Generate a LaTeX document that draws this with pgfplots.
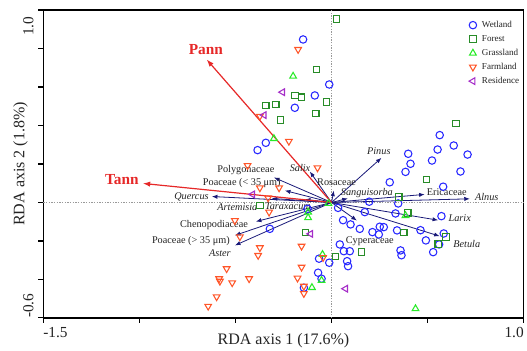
\documentclass[border=0pt]{standalone}
\usepackage{fontspec}
\setmainfont{Liberation Serif}
\usepackage{pgfplots}
\pgfplotsset{compat=1.18}
\usetikzlibrary{arrows.meta}
\definecolor{cwet}{RGB}{40,40,255}
\definecolor{cfor}{RGB}{40,140,40}
\definecolor{cgra}{RGB}{40,235,40}
\definecolor{cfar}{RGB}{255,85,40}
\definecolor{cres}{RGB}{165,45,200}
\definecolor{cspe}{RGB}{25,25,120}
\definecolor{cenv}{RGB}{230,40,40}
\definecolor{ctxt}{RGB}{35,35,35}
\begin{document}
\begin{tikzpicture}
\begin{axis}[
  scale only axis,
  width=360.3pt, height=231pt,
  xmin=-1.5, xmax=1.0, ymin=-0.6, ymax=1.0,
  axis line style={line width=0.9pt},
  tick align=outside, tick pos=left,
  major tick length=3.75pt,
  every tick/.style={black, line width=0.8pt},
  xtick={-1.5,-1,-0.5,0,0.5,1},
  xticklabels={\rlap{-1.5},,,,,\llap{1.0}},
  ytick={-0.6,-0.4,-0.2,0,0.2,0.4,0.6,0.8,1.0},
  yticklabels={\rlap{-0.6},,,,,,,,\llap{1.0\hspace{5pt}}},
  xticklabel style={font=\fontsize{11.5}{13}\selectfont, text=ctxt},
  yticklabel style={font=\fontsize{11.5}{13}\selectfont, text=ctxt, rotate=90, anchor=south},
  xlabel={RDA axis 1 (17.6\%)},
  ylabel={RDA axis 2 (1.8\%)},
  xlabel style={font=\fontsize{12}{14}\selectfont, text=ctxt, at={(axis description cs:0.5,-0.073)}, anchor=center},
  ylabel style={font=\fontsize{12}{14}\selectfont, text=ctxt, at={(axis description cs:-0.0475,0.5)}, anchor=center, rotate=0},
  legend style={draw=none, fill=none, at={(axis cs:0.6935,0.966)}, anchor=north west,
    font=\fontsize{6.8}{8}\selectfont, text=ctxt, row sep=2pt, column sep=3pt,
    nodes={text height=5pt, text depth=1.5pt, inner sep=1pt}},
  legend cell align=left,
  legend image code/.code={\draw[#1] plot coordinates {(0cm,0cm)};},
  clip=false,
]
% reference lines
\addplot[gray!80, dash pattern=on 1pt off 1pt, line width=0.45pt, forget plot] coordinates {(-1.5,0) (1.0,0)};
\addplot[gray!80, dash pattern=on 1pt off 1pt, line width=0.45pt, forget plot] coordinates {(0,-0.6) (0,1.0)};
% Wetland
\addplot[only marks, mark=o, mark size=2.8pt, cwet, line width=0.8pt] coordinates {
(-0.148,0.847) (-0.012,0.613) (-0.087,0.556) (-0.191,0.492) (-0.342,0.310) (-0.385,0.272)
(-0.125,-0.033) (-0.321,-0.137) (0.034,-0.028) (0.060,-0.092) (0.099,-0.114) (0.147,-0.137)
(0.213,-0.154) (0.196,0.004) (0.173,-0.050) (0.347,-0.005) (0.333,-0.057) (0.572,-0.071)
(0.563,0.350) (0.636,0.296) (0.552,0.275) (0.708,0.249) (0.523,0.218) (0.399,0.253)
(0.411,0.201) (0.385,0.159) (0.671,0.161) (0.303,0.105) (0.581,0.082) (0.251,-0.126)
(0.272,-0.128) (0.246,-0.166) (0.341,-0.145) (0.463,-0.144) (0.584,-0.161) (0.491,-0.197)
(0.560,-0.218) (0.359,-0.249) (0.364,-0.274) (0.529,-0.258) (0.043,-0.218) (0.064,-0.253)
(0.095,-0.253) (0.081,-0.305) (0.086,-0.331) (-0.065,-0.292) (-0.012,-0.313) (-0.070,-0.365)
(-0.052,-0.396) (-0.144,-0.443)};
\addlegendentry{Wetland}
% Forest
\addplot[only marks, mark=square, mark size=2.4pt, cfor, line width=0.8pt] coordinates {
(0.026,0.954) (-0.078,0.691) (-0.191,0.556) (-0.156,0.547) (-0.026,0.522) (-0.342,0.504)
(-0.290,0.508) (-0.082,0.462) (-0.265,0.428) (-0.373,-0.016) (-0.135,-0.157) (0.022,-0.282)
(0.156,-0.258) (0.647,0.409) (0.494,0.119) (0.350,0.028) (0.397,-0.054) (0.376,-0.157)
(0.595,-0.180) (0.555,-0.215)};
\addlegendentry{Forest}
% Grassland
\addplot[only marks, mark=triangle, mark size=2.9pt, cgra, line width=0.8pt] coordinates {
(-0.200,0.656) (-0.300,0.332) (-0.016,-0.005) (-0.122,-0.050) (-0.122,-0.079) (0.385,-0.068)
(-0.047,-0.270) (-0.052,-0.405) (-0.102,-0.442) (0.437,-0.552)};
\addlegendentry{Grassland}
% Farmland
\addplot[only marks, mark=triangle, mark size=2.9pt, mark options={rotate=180}, cfar, line width=0.8pt] coordinates {
(-0.174,0.795) (-0.373,0.448) (-0.222,0.318) (-0.437,0.192) (-0.073,0.180) (-0.373,0.076)
(-0.273,0.076) (-0.330,0.024) (-0.325,-0.050) (-0.503,-0.094) (-0.477,-0.178) (-0.373,-0.235)
(-0.382,-0.275) (-0.156,-0.227) (-0.546,-0.344) (-0.585,-0.396) (-0.581,-0.409) (-0.517,-0.417)
(-0.429,-0.396) (-0.598,-0.490) (-0.642,-0.539) (-0.156,-0.336) (-0.177,-0.393) (-0.144,-0.435)
(-0.144,-0.473) (-0.044,-0.286)};
\addlegendentry{Farmland}
% Residence
\addplot[only marks, mark=triangle, mark size=2.9pt, mark options={rotate=90}, cres, line width=0.8pt] coordinates {
(-0.255,0.573) (-0.351,0.454) (-0.411,0.042) (-0.109,-0.163) (0.073,-0.448)};
\addlegendentry{Residence}
% species arrows
\addplot[forget plot, cspe, line width=0.6pt, -{Latex[length=4.2pt,width=3.2pt]},
  quiver={u=\thisrow{u}, v=\thisrow{v}}] table {
x y u v
0 0 0.260 0.232
0 0 0.485 0.042
0 0 0.720 0.019
0 0 0.085 0.021
0 0 0.555 -0.092
0 0 0.563 -0.175
0 0 0.132 -0.094
0 0 -0.113 0.161
0 0 0.012 0.062
0 0 -0.300 0.130
0 0 -0.243 0.062
0 0 -0.623 0.031
0 0 -0.311 0.021
0 0 -0.139 0.016
0 0 -0.394 -0.099
0 0 -0.503 -0.171
0 0 -0.503 -0.223
};
% environmental arrows
\addplot[forget plot, cenv, line width=0.9pt, -{Latex[length=5.5pt,width=4pt]},
  quiver={u=\thisrow{u}, v=\thisrow{v}}] table {
x y u v
0 0 -0.650 0.743
0 0 -0.982 0.099
};
% labels
\begin{scope}[every node/.style={font=\fontsize{7.7}{9}\selectfont, text=ctxt, inner sep=0pt}]
\node at (axis cs:0.246,0.265) {\itshape Pinus};
\node at (axis cs:0.600,0.052) {Ericaceae};
\node at (axis cs:0.808,0.031) {\itshape Alnus};
\node at (axis cs:0.184,0.047) {\itshape Sanguisorba};
\node at (axis cs:0.667,-0.083) {\itshape Larix};
\node at (axis cs:0.704,-0.218) {\itshape Betula};
\node at (axis cs:0.199,-0.203) {Cyperaceae};
\node at (axis cs:-0.164,0.180) {\itshape Salix};
\node at (axis cs:0.026,0.108) {Rosaceae};
\node at (axis cs:-0.446,0.168) {Polygonaceae};
\node at (axis cs:-0.467,0.102) {Poaceae (< 35 μm)};
\node at (axis cs:-0.729,0.031) {\itshape Quercus};
\node at (axis cs:-0.490,-0.022) {\itshape Artemisia};
\node at (axis cs:-0.227,-0.021) {\itshape Taraxacum};
\node at (axis cs:-0.612,-0.119) {Chenopodiaceae};
\node at (axis cs:-0.732,-0.200) {Poaceae (> 35 μm)};
\node at (axis cs:-0.581,-0.265) {\itshape Aster};
\end{scope}
\node[font=\bfseries\fontsize{11.5}{13}\selectfont, text=cenv, inner sep=0pt] at (axis cs:-0.654,0.795) {Pann};
\node[font=\bfseries\fontsize{11.5}{13}\selectfont, text=cenv, inner sep=0pt] at (axis cs:-1.091,0.119) {Tann};
\end{axis}
\pgfresetboundingbox
\path[use as bounding box] ([xshift=-32.5pt,yshift=-24.75pt]current axis.south west) rectangle ([xshift=2.5pt,yshift=7.5pt]current axis.north east);
\end{tikzpicture}
\end{document}
